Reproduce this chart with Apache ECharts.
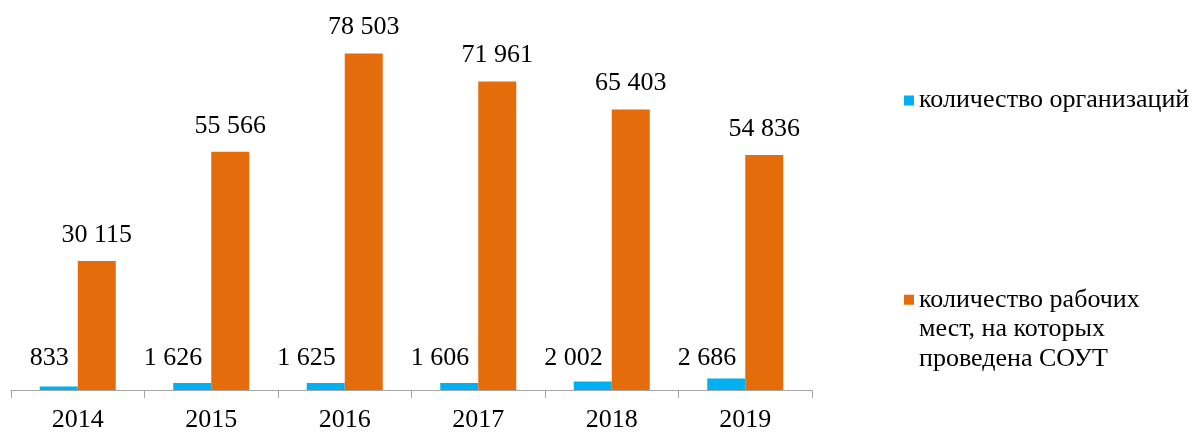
<!DOCTYPE html>
<html>
<head>
<meta charset="utf-8">
<script src="https://cdn.jsdelivr.net/npm/echarts@6/dist/echarts.min.js"></script>
<style>
html,body{margin:0;padding:0;background:#fff;}
#chart{width:1196px;height:434px;}
</style>
</head>
<body>
<div id="chart"></div>
<script>
const years = ['2014', '2015', '2016', '2017', '2018', '2019'];
const organizations = [833, 1626, 1625, 1606, 2002, 2686];
const workplaces = [30115, 55566, 78503, 71961, 65403, 54836];
const seriesNames = ['количество организаций', 'количество рабочих\nмест, на которых\nпроведена СОУТ'];

const FONT = 'Liberation Serif';
const fmt = v => String(v).replace(/\B(?=(\d{3})+(?!\d))/g, ' ');

const chart = echarts.init(document.getElementById('chart'), null, {renderer: 'canvas'});
chart.setOption({
  animation: false,
  textStyle: {fontFamily: FONT},
  grid: {left: 11, right: 384, top: 47, bottom: 44, containLabel: false},
  xAxis: {
    type: 'category',
    data: years,
    axisLine: {lineStyle: {color: '#a6a6a6', width: 1}},
    axisTick: {show: true, length: 8, lineStyle: {color: '#a6a6a6'}},
    axisLabel: {color: '#000', fontSize: 26, fontFamily: FONT, margin: 17}
  },
  yAxis: {
    type: 'value', min: 0, max: 80000, show: false,
    splitLine: {show: false}
  },
  legend: [
    {
      data: [seriesNames[0]],
      orient: 'vertical',
      left: 899, top: 81,
      itemWidth: 10, itemHeight: 10, itemGap: 6,
      icon: 'rect',
      textStyle: {fontSize: 26, fontFamily: FONT, color: '#000', lineHeight: 29}
    },
    {
      data: [seriesNames[1]],
      orient: 'vertical',
      left: 899, top: 221,
      itemWidth: 10, itemHeight: 10, itemGap: 6,
      icon: 'rect',
      formatter: n => '\n\n' + n,
      textStyle: {fontSize: 26, fontFamily: FONT, color: '#000', lineHeight: 29.5}
    }
  ],
  series: [
    {
      name: seriesNames[0],
      type: 'bar',
      data: organizations,
      barWidth: 38,
      barGap: '0%',
      itemStyle: {color: '#00B0F0'},
      label: {
        show: true,
        position: 'insideBottom',
        distance: 0,
        offset: [10, -19],
        align: 'right',
        color: '#000',
        fontSize: 26,
        fontFamily: FONT,
        formatter: p => fmt(p.value)
      }
    },
    {
      name: seriesNames[1],
      type: 'bar',
      data: workplaces,
      barWidth: 38,
      barGap: '0%',
      itemStyle: {color: '#E46C0A'},
      label: {
        show: true,
        position: 'top',
        distance: 13,
        color: '#000',
        fontSize: 26,
        fontFamily: FONT,
        formatter: p => fmt(p.value)
      }
    }
  ]
});
</script>
</body>
</html>
